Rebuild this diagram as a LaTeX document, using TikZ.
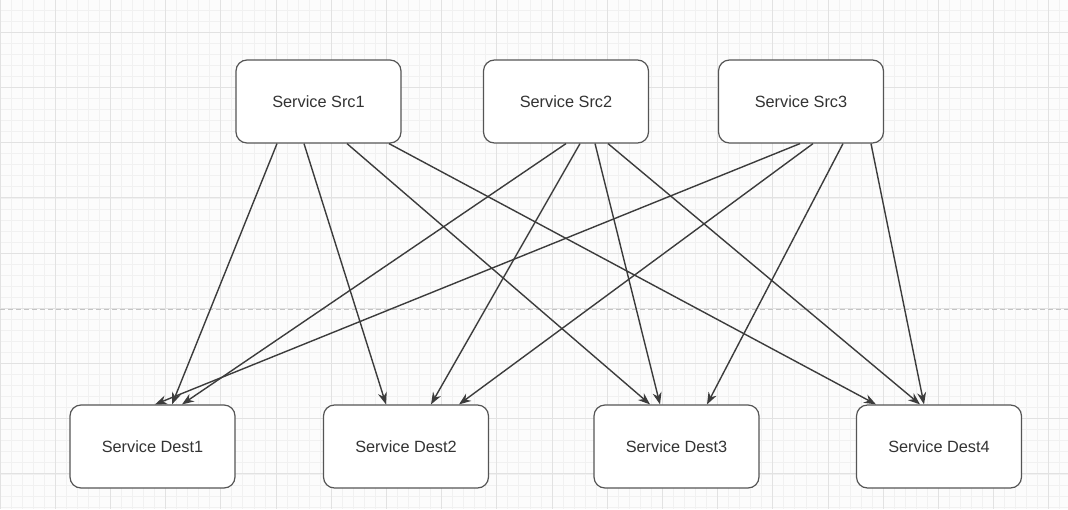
\documentclass[tikz,border=0pt]{standalone}
\usepackage{fontspec}
\setmainfont{Liberation Sans}
\usetikzlibrary{arrows.meta}
\definecolor{bgcol}{HTML}{FCFCFC}
\definecolor{minorgrid}{HTML}{F1F1F1}
\definecolor{majorgrid}{HTML}{E2E2E2}
\definecolor{pagebreak}{HTML}{C4C4C4}
\definecolor{edgecol}{HTML}{3C3C3C}
\definecolor{boxcol}{HTML}{555555}
\definecolor{txtcol}{HTML}{333333}
\begin{document}
\begin{tikzpicture}[x=1pt,y=-1pt,
  svc/.style={draw=boxcol, line width=1.2pt, rounded corners=11pt, fill=white,
    minimum width=165pt, minimum height=83pt, inner sep=0pt, text=txtcol,
    font=\fontsize{16.3}{19}\selectfont},
  link/.style={draw=edgecol, line width=1.4pt, -{Stealth[length=12pt,width=9pt]}},
  minorline/.style={draw=minorgrid, line width=0.8pt},
  majorline/.style={draw=majorgrid, line width=1pt}]
\useasboundingbox (0,0) rectangle (1068,509);
\clip (0,0) rectangle (1068,509);
\fill[bgcol] (0,0) rectangle (1068,509);
% minor grid
\foreach \i in {0,...,97} \draw[minorline] (\i*11.04,0) -- (\i*11.04,509);
\foreach \j in {0,...,46} \draw[minorline] (0,10.22+\j*11.04) -- (1068,10.22+\j*11.04);
% major grid
\foreach \i in {0,...,19} \draw[majorline] (\i*55.2,0) -- (\i*55.2,509);
\foreach \j in {0,...,9} \draw[majorline] (0,32.3+\j*55.2) -- (1068,32.3+\j*55.2);
% page break line
\draw[pagebreak, line width=1pt, dash pattern=on 5pt off 3pt] (0,309) -- (1068,309);
% nodes
\node[svc] (s1) at (318.5,101.5) {Service Src1};
\node[svc] (s2) at (566,101.5) {Service Src2};
\node[svc] (s3) at (801,101.5) {Service Src3};
\node[svc] (d1) at (152.5,446.5) {Service Dest1};
\node[svc] (d2) at (406,446.5) {Service Dest2};
\node[svc] (d3) at (676.5,446.5) {Service Dest3};
\node[svc] (d4) at (939,446.5) {Service Dest4};
% edges from Src1
\draw[link] ([xshift=-41.5pt]s1.south) -- ([xshift=19.5pt]d1.north);
\draw[link] ([xshift=-14.5pt]s1.south) -- ([xshift=-20pt]d2.north);
\draw[link] ([xshift=28.5pt]s1.south) -- ([xshift=-26.5pt]d3.north);
\draw[link] ([xshift=70.5pt]s1.south) -- ([xshift=-63pt]d4.north);
% edges from Src2
\draw[link] ([xshift=0pt]s2.south) -- ([xshift=29.5pt]d1.north);
\draw[link] ([xshift=14pt]s2.south) -- ([xshift=25pt]d2.north);
\draw[link] ([xshift=29pt]s2.south) -- ([xshift=-16.5pt]d3.north);
\draw[link] ([xshift=42pt]s2.south) -- ([xshift=-19pt]d4.north);
% edges from Src3
\draw[link] ([xshift=-1pt]s3.south) -- ([xshift=2.5pt]d1.north);
\draw[link] ([xshift=12pt]s3.south) -- ([xshift=53pt]d2.north);
\draw[link] ([xshift=42pt]s3.south) -- ([xshift=30.5pt]d3.north);
\draw[link] ([xshift=70pt]s3.south) -- ([xshift=-15pt]d4.north);
\end{tikzpicture}
\end{document}
